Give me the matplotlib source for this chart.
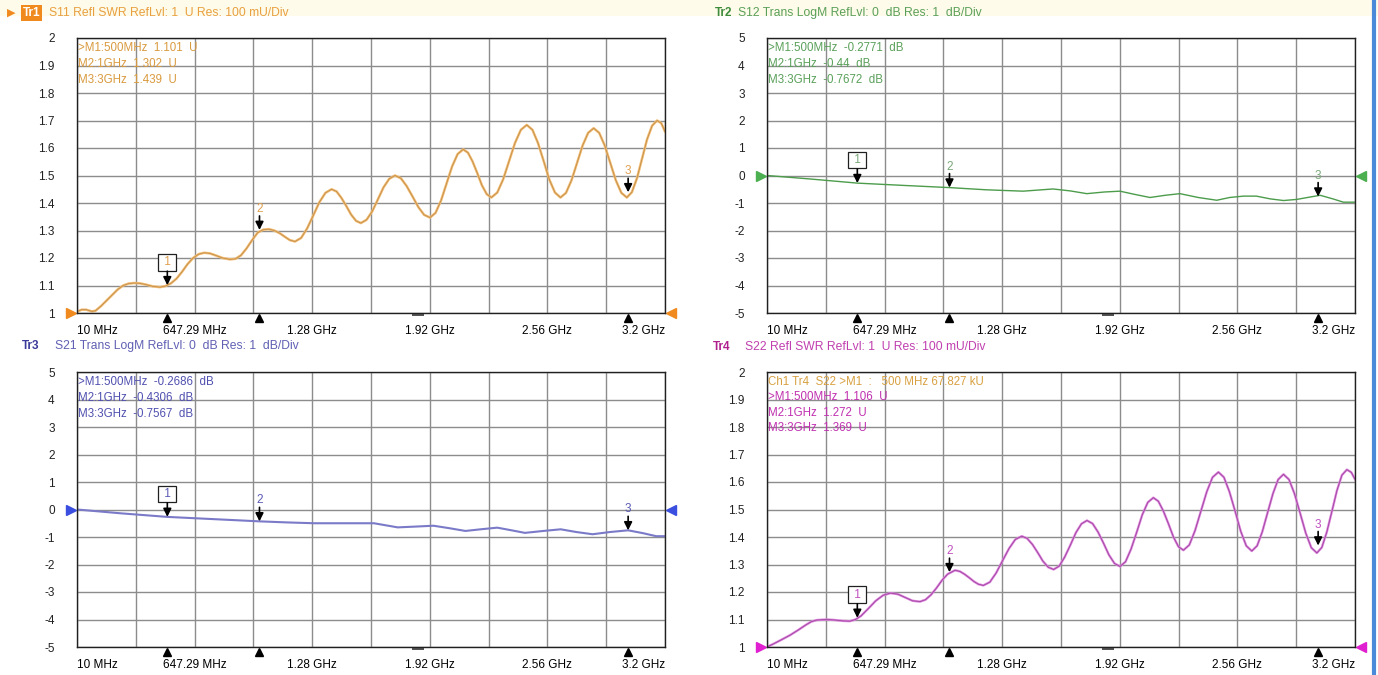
import matplotlib
matplotlib.use("Agg")
import matplotlib.pyplot as plt
from matplotlib.patches import Rectangle

plt.rcParams['font.family'] = ['Liberation Sans', 'DejaVu Sans']

W, H = 1378, 675

# ---- data (freq in MHz) ----
s11_f = [10, 35, 60, 90, 110, 140, 170, 200, 230, 260, 290, 320, 350, 380, 420, 460, 490, 520,
         550, 580, 610, 640, 670, 700, 730, 760, 800, 840, 870, 900, 930, 960, 990, 1020, 1050,
         1080, 1110, 1140, 1165,
         1193, 1226, 1259, 1292, 1325, 1358,
         1391, 1418, 1444, 1471, 1497, 1524,
         1550, 1581, 1612, 1643, 1673, 1704,
         1735, 1767, 1798, 1830, 1862, 1893,
         1925, 1955, 1985, 2015, 2045, 2075,
         2105, 2131, 2156, 2182, 2207, 2233,
         2258, 2290, 2322, 2354, 2386, 2418,
         2450, 2481, 2511, 2542, 2572, 2603,
         2633, 2663, 2693, 2723, 2753, 2783,
         2813, 2843, 2873, 2903, 2933, 2963,
         2993, 3020, 3048, 3075, 3102, 3130,
         3157, 3180, 3200]
s11_v = [1.005, 1.012, 1.012, 1.006, 1.008, 1.025, 1.045, 1.065, 1.085, 1.100, 1.107, 1.109, 1.108,
         1.104, 1.097, 1.094, 1.098, 1.108, 1.125, 1.150, 1.178, 1.200, 1.214, 1.219, 1.217, 1.210,
         1.200, 1.195, 1.197, 1.210, 1.235, 1.265, 1.292, 1.303, 1.305, 1.300, 1.290, 1.276, 1.265,
         1.260, 1.273, 1.308, 1.355, 1.403, 1.437,
         1.450, 1.442, 1.419, 1.389, 1.358, 1.335,
         1.327, 1.339, 1.370, 1.414, 1.457, 1.488,
         1.500, 1.490, 1.462, 1.424, 1.385, 1.357,
         1.347, 1.364, 1.409, 1.471, 1.533, 1.578,
         1.595, 1.583, 1.551, 1.508, 1.464, 1.432,
         1.420, 1.438, 1.486, 1.552, 1.618, 1.666,
         1.684, 1.666, 1.618, 1.552, 1.486, 1.438,
         1.420, 1.437, 1.483, 1.546, 1.609, 1.655,
         1.672, 1.655, 1.609, 1.546, 1.483, 1.437,
         1.420, 1.439, 1.490, 1.560, 1.630, 1.681,
         1.700, 1.690, 1.660]

s12_f = [10, 250, 500, 750, 1000, 1200, 1399, 1480, 1562, 1655, 1745, 1840, 1925, 2000, 2088, 2170,
         2250, 2350, 2450, 2520, 2595, 2665, 2740, 2812, 2884, 2950, 3011, 3080, 3137, 3200]
s12_v = [0.0, -0.13, -0.277, -0.36, -0.44, -0.52, -0.57, -0.53, -0.49, -0.56, -0.66, -0.60, -0.57,
         -0.68, -0.80, -0.72, -0.66, -0.80, -0.90, -0.80, -0.75, -0.75, -0.85, -0.91, -0.87, -0.79,
         -0.72, -0.85, -0.97, -0.97]

s21_f = [10, 250, 500, 750, 1000, 1150, 1298, 1450, 1621, 1750, 1850, 1944, 2030, 2117, 2200, 2290,
         2370, 2440, 2540, 2634, 2720, 2807, 2900, 3000, 3080, 3152, 3200]
s21_v = [0.0, -0.14, -0.269, -0.35, -0.431, -0.47, -0.50, -0.50, -0.50, -0.65, -0.62, -0.59, -0.68,
         -0.78, -0.72, -0.66, -0.76, -0.85, -0.78, -0.72, -0.82, -0.90, -0.82, -0.757, -0.86, -0.97,
         -0.97]

s22_f = [10, 50, 90, 135, 180, 220, 250, 280, 334, 380, 420, 460, 490, 520, 560, 600, 640, 680,
         720, 760, 800, 840, 870, 900, 930, 960, 990,
         1030, 1056, 1081, 1107, 1133, 1158,
         1184, 1219, 1253, 1288, 1323, 1357,
         1392, 1421, 1450, 1479, 1507, 1536,
         1565, 1595, 1625, 1656, 1686, 1716,
         1746, 1776, 1806, 1836, 1865, 1895,
         1925, 1955, 1985, 2016, 2046, 2076,
         2106, 2133, 2160, 2188, 2215, 2242,
         2269, 2301, 2332, 2364, 2396, 2427,
         2459, 2489, 2519, 2550, 2580, 2610,
         2640, 2669, 2697, 2726, 2755, 2783,
         2812, 2842, 2872, 2903, 2933, 2963,
         2993, 3020, 3047, 3075, 3102, 3129,
         3156, 3180, 3200]
s22_v = [1.000, 1.013, 1.027, 1.043, 1.062, 1.080, 1.092, 1.098, 1.100, 1.098, 1.095, 1.094, 1.100,
         1.113, 1.140, 1.168, 1.188, 1.196, 1.192, 1.180, 1.168, 1.165, 1.172, 1.190, 1.215, 1.243,
         1.265,
         1.279, 1.275, 1.265, 1.252, 1.238, 1.228,
         1.224, 1.236, 1.269, 1.314, 1.358, 1.391,
         1.403, 1.395, 1.373, 1.343, 1.312, 1.290,
         1.282, 1.294, 1.327, 1.371, 1.416, 1.448,
         1.460, 1.449, 1.418, 1.377, 1.335, 1.304,
         1.293, 1.310, 1.356, 1.418, 1.481, 1.526,
         1.543, 1.530, 1.495, 1.448, 1.400, 1.365,
         1.352, 1.371, 1.423, 1.494, 1.565, 1.617,
         1.636, 1.617, 1.564, 1.493, 1.421, 1.368,
         1.349, 1.368, 1.419, 1.489, 1.558, 1.609,
         1.628, 1.609, 1.557, 1.485, 1.414, 1.361,
         1.342, 1.362, 1.418, 1.494, 1.569, 1.625,
         1.645, 1.635, 1.610]

marker_f = [500, 1000, 3000]
s11_mk = [1.101, 1.302, 1.439]
s12_mk = [-0.2771, -0.44, -0.7672]
s21_mk = [-0.2686, -0.4306, -0.7567]
s22_mk = [1.106, 1.272, 1.369]

x_ticks = [10, 329, 648, 967, 1286, 1605, 1924, 2243, 2562, 2881, 3200]
x_labels = ['10 MHz', '', '647.29 MHz', '', '1.28 GHz', '', '1.92 GHz', '', '2.56 GHz', '', '3.2 GHz']
swr_ticks = [1, 1.1, 1.2, 1.3, 1.4, 1.5, 1.6, 1.7, 1.8, 1.9, 2]
swr_labels = ['1', '1.1', '1.2', '1.3', '1.4', '1.5', '1.6', '1.7', '1.8', '1.9', '2']
db_ticks = [-5, -4, -3, -2, -1, 0, 1, 2, 3, 4, 5]
db_labels = ['-5', '-4', '-3', '-2', '-1', '0', '1', '2', '3', '4', '5']

fig = plt.figure(figsize=(W / 100, H / 100), dpi=100)
fig.patches.append(Rectangle((0, 1 - 16 / H), 1, 16 / H, transform=fig.transFigure,
                             facecolor='#fffbea', edgecolor='none', zorder=0))
fig.add_artist(plt.Line2D([1374 / W, 1374 / W], [0, 1], color='#4a8ad8', lw=3))


def px(x, y):
    return x / W, 1 - y / H


def panel(left, top, ticks, labels, ylim, ref, refcol):
    ax = fig.add_axes([left / W, 1 - (top + 275) / H, 588 / W, 275 / H])
    ax.set_xlim(10, 3200)
    ax.set_ylim(*ylim)
    ax.set_xticks(x_ticks)
    ax.set_xticklabels(x_labels, fontsize=8.5)
    ax.set_yticks(ticks)
    ax.set_yticklabels(labels, fontsize=8.5, color='#222222')
    ax.tick_params(length=0)
    ax.tick_params(axis='x', pad=9)
    ax.tick_params(axis='y', pad=16)
    tl = ax.get_xticklabels()
    tl[0].set_ha('left')
    tl[-1].set_ha('right')
    ax.grid(True, color='#8c8c8c', lw=1)
    for s in ax.spines.values():
        s.set_color('#202020')
        s.set_linewidth(1)
    tr = ax.get_yaxis_transform()
    ax.plot([-0.011], [ref], marker='>', ms=7, color=refcol, transform=tr, clip_on=False)
    ax.plot([1.011], [ref], marker='<', ms=7, color=refcol, transform=tr, clip_on=False)
    xt = ax.get_xaxis_transform()
    for f in marker_f:
        ax.plot([f], [-0.018], marker='^', ms=6, color='black', transform=xt, clip_on=False)
    ax.plot([1860], [-0.007], marker='_', ms=9, mew=1.2, color='#333333', transform=xt, clip_on=False)
    return ax


def markers(ax, vals, col):
    for i, (f, v) in enumerate(zip(marker_f, vals)):
        ax.annotate('', xy=(f, v), xytext=(0, 14), textcoords='offset pixels',
                    arrowprops=dict(arrowstyle='-|>', color='black', lw=1.2,
                                    mutation_scale=12, shrinkA=0, shrinkB=0), zorder=5)
        if i == 0:
            ax.annotate(' 1 ', xy=(f, v), xytext=(0, 23), textcoords='offset pixels',
                        ha='center', va='center', fontsize=8.5, color=col,
                        bbox=dict(boxstyle='square,pad=0.2', fc='white', ec='#202020', lw=0.9))
        else:
            ax.annotate(str(i + 1), xy=(f, v), xytext=(0, 21), textcoords='offset pixels',
                        ha='center', va='center', fontsize=8.5, color=col)


def legend(x, y0, lines, cols, step=15.5):
    for k, (t, c) in enumerate(zip(lines, cols)):
        fig.text(*px(x, y0 + k * step), t, fontsize=8.3, color=c, va='center', ha='left')


# ---- Tr1 S11 ----
ax1 = panel(77, 38, swr_ticks, swr_labels, (1, 2), 1, '#f08a1e')
ax1.plot(s11_f, s11_v, color='#f3bb70', lw=1.8)
ax1.plot(s11_f, s11_v, color='#b88848', lw=0.5)
markers(ax1, s11_mk, '#e0a050')
c1 = '#d99a3e'
legend(78, 48, ['>M1:500MHz  1.101  U', 'M2:1GHz  1.302  U', 'M3:3GHz  1.439  U'], [c1] * 3, 16)

# ---- Tr2 S12 ----
ax2 = panel(767, 38, db_ticks, db_labels, (-5, 5), 0, '#4caf50')
ax2.plot(s12_f, s12_v, color='#4c9c4c', lw=1.0)
markers(ax2, s12_mk, '#7aa87a')
c2 = '#5aa05a'
legend(768, 48, ['>M1:500MHz  -0.2771  dB', 'M2:1GHz  -0.44  dB', 'M3:3GHz  -0.7672  dB'], [c2] * 3, 16)

# ---- Tr3 S21 ----
ax3 = panel(77, 372, db_ticks, db_labels, (-5, 5), 0, '#3a4ee0')
ax3.plot(s21_f, s21_v, color='#7a7ac8', lw=1.5)
markers(ax3, s21_mk, '#5a5ab4')
c3 = '#5050b0'
legend(78, 382, ['>M1:500MHz  -0.2686  dB', 'M2:1GHz  -0.4306  dB', 'M3:3GHz  -0.7567  dB'], [c3] * 3, 16)

# ---- Tr4 S22 ----
ax4 = panel(767, 372, swr_ticks, swr_labels, (1, 2), 1, '#e020d0')
ax4.plot(s22_f, s22_v, color='#dc80dc', lw=1.7)
ax4.plot(s22_f, s22_v, color='#944094', lw=0.5)
markers(ax4, s22_mk, '#c050c0')
c4 = '#c030b0'
legend(768, 382, ['Ch1 Tr4  S22 >M1  :   500 MHz 67.827 kU', '>M1:500MHz  1.106  U',
                  'M2:1GHz  1.272  U', 'M3:3GHz  1.369  U'], ['#d8a040', c4, c4, c4], 15.3)

# ---- headers ----
fig.text(*px(7, 13), '\u25b6', fontsize=8, color='#f08a1e', va='center', family=['DejaVu Sans'])
fig.text(*px(23, 13), 'Tr1', fontsize=8.5, color='white', weight='bold', va='center',
         bbox=dict(boxstyle='square,pad=0.15', fc='#f08a1e', ec='none'))
fig.text(*px(49, 13), 'S11 Refl SWR RefLvl: 1  U Res: 100 mU/Div', fontsize=8.7, color='#e8a040', va='center')
fig.text(*px(715, 13), 'Tr2', fontsize=8.5, color='#3c8c3c', weight='bold', va='center')
fig.text(*px(738, 13), 'S12 Trans LogM RefLvl: 0  dB Res: 1  dB/Div', fontsize=8.7, color='#5aa05a', va='center')
fig.text(*px(22, 346), 'Tr3', fontsize=8.5, color='#3a3a9a', weight='bold', va='center')
fig.text(*px(55, 346), 'S21 Trans LogM RefLvl: 0  dB Res: 1  dB/Div', fontsize=8.7, color='#6060b4', va='center')
fig.text(*px(713, 347), 'Tr4', fontsize=8.5, color='#b0208e', weight='bold', va='center')
fig.text(*px(745, 347), 'S22 Refl SWR RefLvl: 1  U Res: 100 mU/Div', fontsize=8.7, color='#c040b0', va='center')

fig.savefig('out.png', dpi=100)
